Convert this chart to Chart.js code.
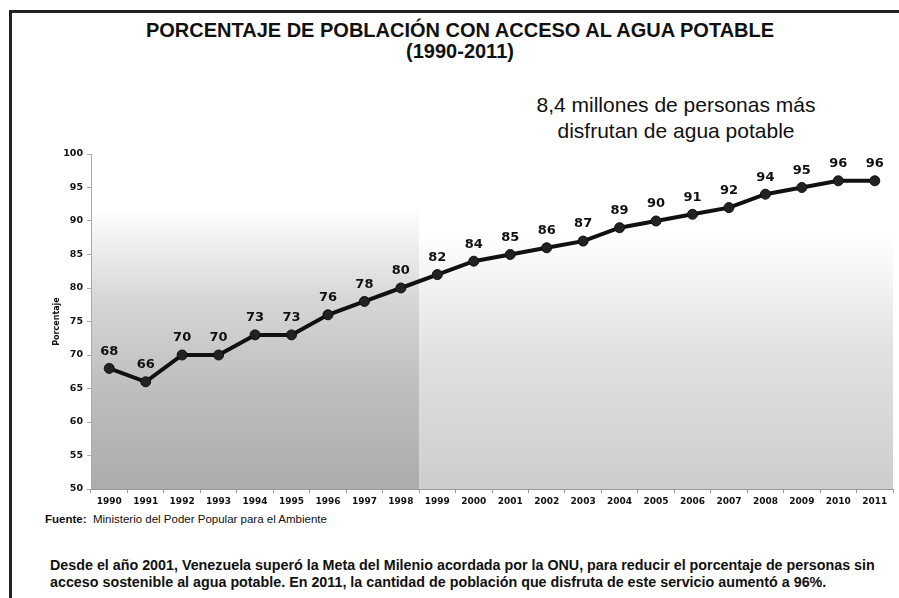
<!DOCTYPE html>
<html>
<head>
<meta charset="utf-8">
<script src="https://cdn.jsdelivr.net/npm/chart.js@4.4.1/dist/chart.umd.min.js"></script>
<style>
  html, body { margin: 0; padding: 0; background: #fff; }
  body { width: 899px; height: 598px; position: relative; overflow: hidden; font-family: "Liberation Sans", Arial, sans-serif; color: #111; }
  .frame-top { position: absolute; left: 9px; top: 10px; width: 890px; height: 3px; background: #222; }
  .frame-left { position: absolute; left: 9px; top: 10px; width: 3px; height: 588px; background: #222; }
  .txt { position: absolute; white-space: nowrap; }
  #title { left: 0; width: 920px; text-align: center; top: 20px; font-size: 20px; font-weight: bold; line-height: 20px; }
  #subtitle { left: 0; width: 920px; text-align: center; top: 41px; font-size: 20px; font-weight: bold; line-height: 20px; }
  #note { left: 476px; width: 400px; text-align: center; top: 92px; font-size: 21px; line-height: 26px; }
  #source { left: 45px; top: 513px; font-size: 11.5px; line-height: 13px; }
  #para { left: 50px; top: 557px; font-size: 14.3px; font-weight: bold; line-height: 17px; }
  #wrap { position: absolute; left: 40px; top: 130px; width: 859px; height: 380px; }
</style>
</head>
<body>
<div class="frame-top"></div>
<div class="frame-left"></div>
<div class="txt" id="title">PORCENTAJE DE POBLACIÓN CON ACCESO AL AGUA POTABLE</div>
<div class="txt" id="subtitle">(1990-2011)</div>
<div class="txt" id="note">8,4 millones de personas más<br>disfrutan de agua potable</div>
<div id="wrap"><canvas id="chart"></canvas></div>
<div class="txt" id="source"><b>Fuente:</b>&nbsp; Ministerio del Poder Popular para el Ambiente</div>
<div class="txt" id="para">Desde el año 2001, Venezuela superó la Meta del Milenio acordada por la ONU, para reducir el porcentaje de personas sin<br>acceso sostenible al agua potable. En 2011, la cantidad de población que disfruta de este servicio aumentó a 96%.</div>
<script>
const years = ['1990', '1991', '1992', '1993', '1994', '1995', '1996', '1997', '1998', '1999', '2000',
  '2001', '2002', '2003', '2004', '2005', '2006', '2007', '2008', '2009', '2010', '2011'];
const percent = [68, 66, 70, 70, 73, 73, 76, 78, 80, 82, 84, 85, 86, 87, 89, 90, 91, 92, 94, 95, 96, 96];
const yTicks = [50, 55, 60, 65, 70, 75, 80, 85, 90, 95, 100];
const lastEarlyYear = '1998';

// shaded backgrounds: darker before 1999, lighter after
const shading = {
  id: 'shading',
  beforeDraw(chart) {
    const { ctx, chartArea: a, scales: { x, y } } = chart;
    const split = x.getPixelForValue(years.indexOf(lastEarlyYear) + 0.5);
    ctx.save();
    let top = y.getPixelForValue(92);
    let g = ctx.createLinearGradient(0, top, 0, a.bottom);
    g.addColorStop(0, '#ffffff');
    g.addColorStop(0.33, '#d6d6d6');
    g.addColorStop(0.66, '#bdbdbd');
    g.addColorStop(1, '#acacac');
    ctx.fillStyle = g;
    ctx.fillRect(a.left, top, split - a.left, a.bottom - top);
    top = y.getPixelForValue(88);
    g = ctx.createLinearGradient(0, top, 0, a.bottom);
    g.addColorStop(0, '#ffffff');
    g.addColorStop(0.45, '#e2e2e2');
    g.addColorStop(1, '#cdcdcd');
    ctx.fillStyle = g;
    ctx.fillRect(split, top, a.right - split, a.bottom - top);
    ctx.restore();
  }
};

// value labels above each point
const valueLabels = {
  id: 'valueLabels',
  afterDatasetsDraw(chart) {
    const ctx = chart.ctx;
    const meta = chart.getDatasetMeta(0);
    ctx.save();
    ctx.font = 'bold 13px "DejaVu Sans", sans-serif';
    ctx.fillStyle = '#111';
    ctx.textAlign = 'center';
    ctx.textBaseline = 'middle';
    meta.data.forEach((pt, i) => {
      ctx.fillText(String(percent[i]), pt.x, pt.y - 17);
    });
    ctx.restore();
  }
};

new Chart(document.getElementById('chart'), {
  type: 'line',
  data: {
    labels: years,
    datasets: [{
      data: percent,
      borderColor: '#111',
      borderWidth: 4,
      pointRadius: 5,
      pointBackgroundColor: '#222',
      pointBorderColor: '#111',
      pointBorderWidth: 1,
      tension: 0,
    }],
  },
  options: {
    responsive: true,
    maintainAspectRatio: false,
    animation: false,
    layout: { padding: { top: 24, right: 2, left: 0, bottom: 0 } },
    plugins: { legend: { display: false }, tooltip: { enabled: false } },
    scales: {
      x: {
        offset: true,
        grid: { offset: true, drawOnChartArea: false, tickLength: 4, color: '#999' },
        border: { color: '#999' },
        ticks: { color: '#111', font: { family: '"DejaVu Sans"', weight: 'bold', size: 9 }, padding: 3, maxRotation: 0, autoSkip: false },
        afterFit(scale) { scale.height = 21; },
      },
      y: {
        min: 50,
        max: 100,
        afterBuildTicks(scale) { scale.ticks = yTicks.map(v => ({ value: v })); },
        grid: { drawOnChartArea: false, tickLength: 4, color: '#aaa' },
        border: { color: '#aaa' },
        ticks: { color: '#111', font: { family: '"DejaVu Sans"', weight: 'bold', size: 9.5 }, padding: 4 },
        title: { display: true, text: 'Porcentaje', color: '#111', font: { family: '"DejaVu Sans"', weight: 'bold', size: 8 }, padding: { top: 12, bottom: 0 } },
        afterFit(scale) { scale.width = 51; },
      },
    },
  },
  plugins: [shading, valueLabels],
});
</script>
</body>
</html>
